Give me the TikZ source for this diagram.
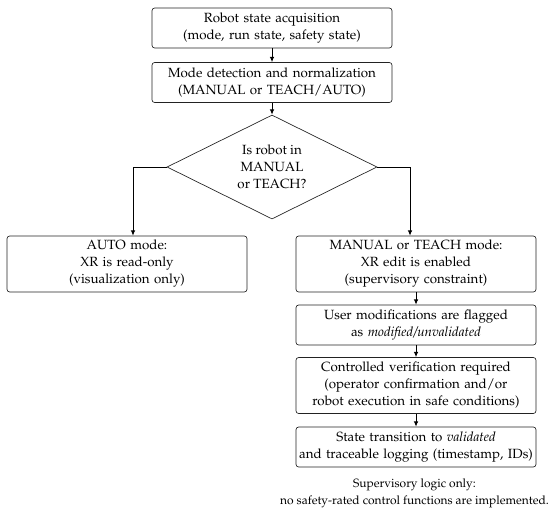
\documentclass[tikz,border=0pt]{standalone}
\usepackage[T1]{fontenc}
\usepackage{mathpazo}
\usepackage{tikz}
\usetikzlibrary{arrows.meta,positioning,calc,shapes.geometric}
\definecolor{ink}{HTML}{222222}

\begin{document}
\begin{tikzpicture}[x=0.75pt,y=-0.75pt,font=\fontsize{10}{12.75}\selectfont,
  stepbox/.style={draw=ink,line width=0.5pt,rounded corners=2pt,fill=white,
        inner sep=2pt,minimum width=180pt,text width=176pt,align=center},
  twoline/.style={stepbox,minimum height=30pt},
  threeline/.style={stepbox,minimum height=42pt},
  decision/.style={draw=ink,line width=0.5pt,diamond,aspect=2,inner sep=0pt,
        minimum width=157.5pt,minimum height=78pt,align=center},
  flow/.style={draw=black,line width=0.7pt,-{Latex[length=4pt,width=3.5pt]}}]
  \useasboundingbox (0,0) rectangle (550,512);

  % upper chain
  \node[twoline] (acq) at (272,28) {Robot state acquisition\\(mode, run state, safety state)};
  \node[twoline] (norm) at (272,82.5) {Mode detection and normalization\\(MANUAL or TEACH/AUTO)};
  \node[decision] (modeq) at (272,167) {Is robot in\\MANUAL\\or TEACH?};

  % branches
  \node[threeline] (auto) at (127,264) {AUTO mode:\\XR is read-only\\(visualization only)};
  \node[threeline] (edit) at (416,264) {MANUAL or TEACH mode:\\XR edit is enabled\\(supervisory constraint)};
  \node[twoline] (flag) at (416,325) {User modifications are flagged\\as \textit{modified/unvalidated}};
  \node[threeline] (verif) at (416,385.5) {Controlled verification required\\(operator confirmation and/or\\robot execution in safe conditions)};
  \node[twoline] (valid) at (416,447) {State transition to \textit{validated}\\and traceable logging (timestamp, IDs)};
  \node[align=center,inner sep=0pt,font=\fontsize{9}{12.75}\selectfont] (note) at (414.5,493.5)
    {Supervisory logic only:\\no safety-rated control functions are implemented.};

  \draw[flow] (acq) -- (norm);
  \draw[flow] (norm) -- (modeq);
  \draw[flow] (modeq.west) -| ([xshift=4.5pt]auto.north);
  \draw[flow] (modeq.east) -| ([xshift=-4.5pt]edit.north);
  \draw[flow] (edit) -- (flag);
  \draw[flow] (flag) -- (verif);
  \draw[flow] (verif) -- (valid);
\end{tikzpicture}
\end{document}
